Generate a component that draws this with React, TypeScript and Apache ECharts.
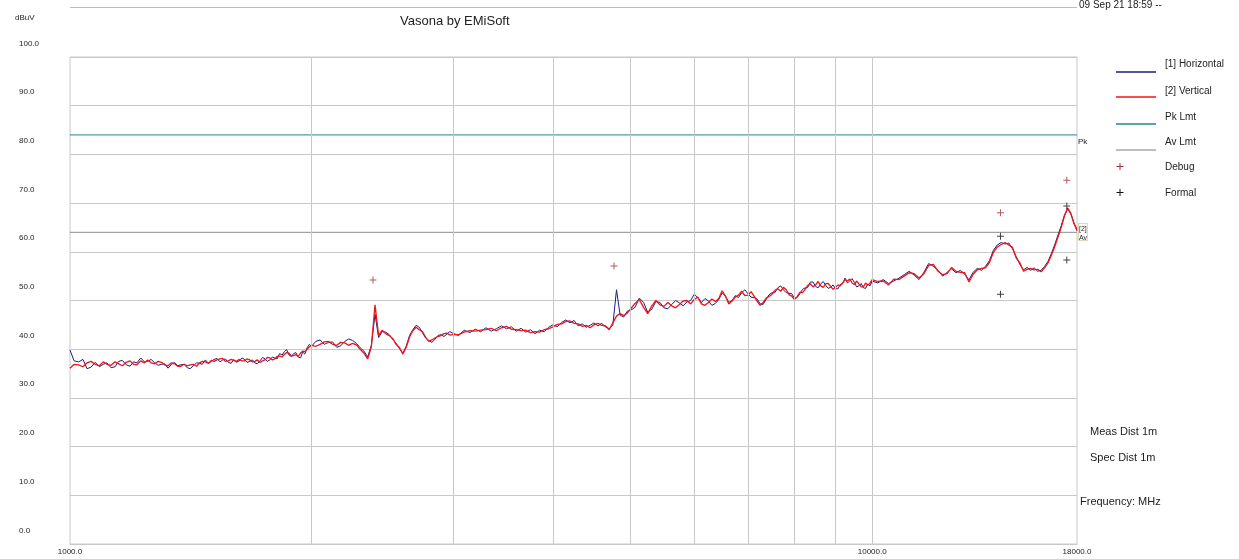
import React, { useEffect, useRef } from 'react';
import * as echarts from 'echarts';

const chartTitle = 'Vasona by EMiSoft';
const yUnit = 'dBuV';
const dateStamp = '09 Sep 21 18:59 --';

// Sweep frequencies (MHz), main grid
const freqMHz = [
  1000, 1025, 1050, 1075, 1100, 1125, 1150, 1175, 1200, 1225, 1250, 1275, 1300, 1325, 1350, 1375, 1400, 1425, 1450, 1475,
  1500, 1525, 1550, 1575, 1600, 1625, 1650, 1675, 1700, 1725, 1750, 1775, 1800, 1825, 1850, 1875, 1900, 1925, 1950, 1975, 2000,
  2050, 2100, 2150, 2200, 2250, 2300, 2350, 2400, 2450, 2500, 2550, 2600, 2650, 2700, 2750, 2800, 2850, 2900, 2950, 3000,
  3050, 3100, 3150, 3200, 3250, 3300, 3350, 3400, 3450, 3500, 3550, 3600, 3650, 3700, 3750, 3800, 3850, 3900, 3950, 4000,
  4050, 4100, 4150, 4200, 4250, 4300, 4350, 4400, 4450, 4500, 4550, 4600, 4650, 4700, 4750, 4800, 4850, 4900, 4950, 5000,
  5125, 5250, 5375, 5500, 5625, 5750, 5875, 6000, 6125, 6250, 6375, 6500, 6625, 6750, 6875, 7000, 7125, 7250, 7375, 7500,
  7625, 7750, 7875, 8000, 8125, 8250, 8375, 8500, 8625, 8750, 8875, 9000, 9125, 9250, 9375, 9500, 9625, 9750, 9875, 10000,
  10160, 10320, 10480, 10640, 10800, 10960, 11120, 11280, 11440, 11600, 11760, 11920, 12080, 12240, 12400, 12560, 12720, 12880, 13040, 13200,
  13360, 13520, 13680, 13840, 14000, 14160, 14320, 14480, 14640, 14800, 14960, 15120, 15280, 15440, 15600, 15760, 15920, 16080, 16240, 16400,
  16560, 16720, 16880, 17040, 17200, 17360, 17520, 17680, 17840, 18000,
];

// [1] Horizontal (dBuV) at freqMHz
const horizontal = [
  39.8, 37.4, 36.0, 37.3, 36.9, 36.2, 37.5, 36.8, 37.4, 38.2, 37.5, 37.2, 36.9, 36.1, 37.3, 36.8, 36.2, 36.6, 37.1, 37.8,
  37.5, 38.1, 37.8, 37.3, 37.9, 37.6, 37.9, 37.5, 37.2, 37.6, 38.0, 37.8, 38.2, 39.1, 39.5, 38.8, 39.1, 38.4, 39.4, 40.3, 40.6,
  41.9, 41.4, 40.4, 41.6, 41.8, 40.3, 38.4, 47.2, 43.6, 43.0, 41.2, 39.2, 42.8, 44.9, 43.4, 41.8, 42.0, 43.0, 43.1, 43.3,
  42.8, 43.9, 43.4, 44.1, 43.6, 44.4, 43.7, 44.2, 44.8, 44.2, 44.6, 43.7, 44.3, 43.5, 44.0, 43.2, 43.9, 43.6, 44.5, 45.0,
  44.6, 45.5, 46.0, 45.4, 45.9, 44.8, 45.2, 44.5, 44.9, 45.4, 44.8, 45.3, 44.6, 44.2, 45.0, 52.2, 47.0, 46.6, 47.8, 48.0,
  50.5, 47.6, 49.8, 48.5, 49.2, 49.5, 49.7, 51.3, 49.6, 49.9, 49.4, 51.6, 49.6, 51.0, 51.6, 51.4, 50.6, 49.3, 50.2, 51.6,
  52.6, 52.2, 51.5, 50.4, 51.4, 52.6, 53.8, 52.9, 53.4, 53.1, 52.7, 52.4, 53.3, 54.6, 54.0, 53.7, 53.0, 52.6, 53.4, 54.0,
  53.6, 54.3, 53.5, 54.0, 54.6, 55.3, 56.0, 55.2, 54.3, 55.8, 57.6, 57.0, 56.2, 55.0, 55.8, 56.5, 55.7, 56.2, 55.4, 54.2,
  55.8, 56.6, 56.2, 57.0, 58.2, 60.3, 61.4, 61.9, 61.6, 61.8, 60.6, 59.0, 57.4, 56.3, 56.8, 56.2, 56.7, 56.0, 56.2, 57.0,
  58.0, 59.6, 61.4, 63.4, 65.3, 67.5, 68.8, 67.8, 66.0, 64.3,
];

// [2] Vertical (dBuV) at freqMHz
const vertical = [
  36.1, 36.8, 37.2, 36.9, 37.4, 36.7, 37.0, 37.3, 36.9, 37.6, 37.8, 37.0, 37.3, 36.6, 37.0, 36.5, 36.6, 36.9, 37.2, 37.4,
  37.7, 37.8, 38.1, 37.6, 37.7, 37.9, 37.6, 37.8, 37.5, 37.3, 37.8, 38.2, 38.0, 38.6, 38.9, 39.2, 38.7, 38.5, 39.6, 40.0, 40.8,
  41.0, 41.6, 40.8, 41.3, 41.2, 40.0, 38.0, 49.1, 43.9, 42.8, 41.0, 39.0, 42.5, 44.5, 43.6, 41.6, 42.3, 42.8, 43.3, 43.0,
  43.0, 43.5, 43.8, 43.7, 43.9, 44.0, 44.3, 43.8, 44.4, 44.7, 44.1, 44.0, 43.8, 43.9, 43.4, 43.6, 43.5, 44.0, 44.2, 44.6,
  45.1, 45.2, 45.7, 45.8, 45.3, 45.2, 44.7, 44.9, 44.4, 45.0, 45.3, 44.9, 44.8, 44.0, 45.4, 46.8, 47.3, 46.9, 47.4, 48.3,
  50.2, 47.3, 50.0, 48.8, 48.9, 49.2, 50.0, 50.2, 49.3, 49.6, 49.8, 52.0, 49.3, 50.7, 51.9, 51.1, 50.9, 49.0, 50.5, 51.3,
  52.4, 52.7, 51.2, 50.2, 51.7, 52.3, 53.4, 53.2, 53.0, 53.4, 52.9, 52.7, 53.0, 54.3, 54.4, 53.3, 53.4, 52.8, 53.1, 54.3,
  53.9, 54.0, 53.2, 54.4, 54.3, 55.0, 55.7, 55.5, 54.6, 55.5, 57.2, 57.4, 56.0, 55.3, 55.5, 56.8, 56.0, 55.8, 55.7, 53.8,
  55.4, 56.3, 56.6, 56.7, 57.8, 59.9, 61.0, 61.5, 61.9, 61.4, 60.9, 58.7, 57.7, 56.0, 56.4, 56.6, 56.3, 56.4, 55.9, 56.7,
  57.7, 59.3, 61.0, 63.0, 65.0, 67.3, 69.0, 68.0, 65.8, 64.6,
];

// Extra in-between sweep points (MHz) where the trace is sparse
const freqFine = [
  1012, 1038, 1062, 1088, 1112, 1138, 1162, 1188, 1212, 1238, 1262, 1288, 1312, 1338, 1362, 1388, 1412, 1438, 1462, 1488,
  1512, 1538, 1562, 1588, 1612, 1638, 1662, 1688, 1712, 1738, 1762, 1788, 1812, 1838, 1862, 1888, 1912, 1938, 1962, 1988,
  2025, 2075, 2125, 2175, 2225, 2275, 2325, 2375, 2425, 2475, 2525, 2575, 2625, 2675, 2725, 2775, 2825, 2875, 2925, 2975,
  5062, 5188, 5312, 5438, 5562, 5688, 5812, 5938, 6062, 6188, 6312, 6438, 6562, 6688, 6812, 6938, 7062, 7188, 7312, 7438,
  7562, 7688, 7812, 7938, 8062, 8188, 8312, 8438, 8562, 8688, 8812, 8938, 9062, 9188, 9312, 9438, 9562, 9688, 9812, 9938,
];

const horizontalFine = [
  37.6, 37.9, 36.3, 36.4, 37.2, 36.4, 37.7, 36.5, 37.2, 37.4, 37.9, 36.7, 37.0, 36.9, 36.6, 36.9, 36.0, 37.2, 36.9, 37.1,
  37.9, 37.4, 38.0, 37.1, 37.3, 38.2, 37.3, 37.8, 37.0, 38.3, 37.5, 38.4, 38.0, 38.8, 39.9, 38.5, 39.3, 38.2, 39.0, 41.0,
  41.6, 41.0, 41.5, 40.7, 42.1, 41.2, 39.6, 40.8, 42.4, 43.5, 42.0, 40.1, 40.6, 44.0, 44.5, 42.3, 41.4, 42.8, 42.6, 43.6,
  48.6, 49.6, 48.2, 49.6, 48.3, 50.0, 48.9, 50.0, 50.6, 50.4, 49.0, 50.2, 50.9, 50.0, 50.6, 52.2, 50.7, 50.3, 49.2, 51.2,
  51.6, 53.0, 51.6, 51.4, 50.6, 52.3, 52.7, 53.8, 52.6, 53.9, 52.5, 53.2, 52.4, 53.5, 53.6, 54.5, 52.8, 53.5, 52.5, 53.0,
];

const verticalFine = [
  36.9, 36.4, 37.5, 36.6, 36.9, 37.4, 36.6, 37.6, 36.8, 37.2, 37.2, 37.5, 36.8, 37.2, 36.5, 36.9, 36.8, 36.5, 37.5, 37.1,
  37.5, 38.0, 37.5, 37.9, 37.5, 37.6, 38.0, 37.4, 37.8, 37.6, 38.3, 37.8, 38.5, 38.4, 39.3, 38.6, 38.9, 39.2, 39.5, 40.5,
  40.6, 41.5, 41.0, 41.4, 40.8, 40.9, 39.2, 40.5, 42.8, 43.2, 42.2, 40.3, 40.4, 43.8, 44.0, 42.5, 41.9, 42.6, 43.2, 42.9,
  49.4, 48.6, 48.9, 49.1, 49.6, 48.5, 49.9, 49.3, 50.7, 49.0, 50.3, 50.4, 50.9, 49.9, 51.1, 51.0, 51.8, 49.8, 49.6, 50.8,
  52.1, 51.9, 52.2, 50.9, 50.8, 51.6, 53.1, 52.8, 53.9, 52.7, 53.5, 52.3, 53.2, 53.6, 54.0, 53.6, 54.0, 52.8, 53.6, 53.6,
];

const limitFreq = [1000, 18000];
const pkLimit = [84, 84];
const avLimit = [64, 64];

const debugFreq = [2386, 4766, 14450, 17480];
const debugLevel = [54.2, 57.1, 68.0, 74.7];
const formalFreq = [14450, 14450, 17480, 17480];
const formalLevel = [63.2, 51.3, 69.4, 58.3];

const gridFreqs = [2000, 3000, 4000, 5000, 6000, 7000, 8000, 9000, 10000];
const xLabelValues = [1000, 10000, 18000];

const legendNames = ['[1] Horizontal', '[2] Vertical', 'Pk Lmt', 'Av Lmt', 'Debug', 'Formal'];
const sideNotes = ['Meas Dist 1m', 'Spec Dist 1m', 'Frequency: MHz'];

const FONT = '"Liberation Sans", Arial, Helvetica, sans-serif';
const C_H = '#1c1c84';
const C_V = '#f01414';
const C_PK = '#1f8787';
const C_AV = '#8c8c8c';
const C_DBG = '#a03030';
const C_FRM = '#111111';
const C_GRID = '#c8c8c8';
const PLUS = 'path://M3,0H4V3H7V4H4V7H3V4H0V3H3Z';

function mergeSweep(fa: number[], va: number[], fb: number[], vb: number[]) {
  const pts = fa.map((f, i) => [f, va[i]]).concat(fb.map((f, i) => [f, vb[i]]));
  pts.sort((a, b) => a[0] - b[0]);
  return pts;
}

export default function App() {
  const ref = useRef<HTMLDivElement>(null);
  useEffect(() => {
    if (!ref.current) return;
    const chart = echarts.init(ref.current, null, { renderer: 'svg' });
    const pair = (xs: number[], ys: number[]) => xs.map((x, i) => [x, ys[i]]);

    const plus = (cx: number, cy: number, color: string) => [
      { type: 'line', shape: { x1: cx - 3, y1: cy, x2: cx + 4, y2: cy }, style: { stroke: color, lineWidth: 1 } },
      { type: 'line', shape: { x1: cx + 0.5, y1: cy - 3.5, x2: cx + 0.5, y2: cy + 3.5 }, style: { stroke: color, lineWidth: 1 } },
    ];
    const txt = (x: number, y: number, text: string, size: number, extra: any = {}) => ({
      type: 'text',
      x,
      y,
      style: { text, fontSize: size, fontFamily: FONT, fill: '#222', align: 'left', verticalAlign: 'middle', ...extra },
    });
    const legendLineY = [72, 97, 124, 150];
    const legendLineColors = [C_H, C_V, C_PK, '#a8a8a8'];
    const legendTextY = [63.5, 90, 116, 141, 166, 192];

    const graphic: any[] = [
      { type: 'line', shape: { x1: 70, y1: 7.5, x2: 1077, y2: 7.5 }, style: { stroke: '#bbbbbb', lineWidth: 1 } },
      txt(1079, 4, dateStamp, 10),
      txt(15, 17, yUnit, 8),
      ...legendLineY.map((y, i) => ({
        type: 'line',
        shape: { x1: 1116, y1: y, x2: 1156, y2: y },
        style: { stroke: legendLineColors[i], lineWidth: 1.4 },
      })),
      ...plus(1119.5, 166.5, C_DBG),
      ...plus(1119.5, 192.5, C_FRM),
      ...legendNames.map((n, i) => txt(1165, legendTextY[i], n, 10)),
      txt(1078, 141, 'Pk', 8),
      { type: 'rect', shape: { x: 1078.5, y: 223.5, width: 9, height: 17 }, style: { fill: 'none', stroke: '#c8b070', lineWidth: 1, lineDash: [1, 1] } },
      txt(1079, 228, '[2]', 7),
      txt(1079, 237, 'Av', 7),
      txt(1090, 431, sideNotes[0], 11),
      txt(1090, 457, sideNotes[1], 11),
      txt(1080, 500.5, sideNotes[2], 11),
    ];

    chart.setOption({
      animation: false,
      textStyle: { fontFamily: FONT },
      title: {
        text: chartTitle,
        left: 400,
        top: 14,
        padding: 0,
        textStyle: { fontSize: 13, fontWeight: 'normal', color: '#222', fontFamily: FONT },
      },
      grid: {
        left: 70,
        top: 57,
        width: 1007,
        height: 487,
        show: true,
        borderColor: C_GRID,
        borderWidth: 1,
        backgroundColor: 'transparent',
      },
      xAxis: {
        type: 'log',
        logBase: 10,
        min: 1000,
        max: 18000,
        axisLine: { show: true, lineStyle: { color: C_GRID } },
        axisTick: { show: false },
        splitLine: { show: false },
        axisLabel: {
          fontSize: 8,
          color: '#222',
          margin: 3,
          showMinLabel: true,
          showMaxLabel: true,
          formatter: (v: number) => {
            const r = Math.round(v);
            return xLabelValues.includes(r) ? r.toFixed(1) : '';
          },
        },
      },
      yAxis: {
        type: 'value',
        min: 0,
        max: 100,
        interval: 10,
        axisLine: { show: false },
        axisTick: { show: false },
        splitLine: { show: true, lineStyle: { color: C_GRID, width: 1 } },
        axisLabel: {
          fontSize: 8,
          color: '#222',
          align: 'left',
          margin: 51,
          verticalAlign: 'bottom',
          lineHeight: 28,
          formatter: (v: number) => v.toFixed(1),
        },
      },
      series: [
        {
          name: 'Av Lmt',
          type: 'line',
          data: pair(limitFreq, avLimit),
          symbol: 'none',
          lineStyle: { color: C_AV, width: 1 },
          z: 2,
          silent: true,
          markLine: {
            silent: true,
            symbol: 'none',
            label: { show: false },
            lineStyle: { color: C_GRID, type: 'solid', width: 1 },
            data: gridFreqs.map((f) => ({ xAxis: f })),
          },
        },
        {
          name: 'Pk Lmt',
          type: 'line',
          data: pair(limitFreq, pkLimit),
          symbol: 'none',
          lineStyle: { color: C_PK, width: 1 },
          z: 2,
          silent: true,
        },
        {
          name: '[1] Horizontal',
          type: 'line',
          data: mergeSweep(freqMHz, horizontal, freqFine, horizontalFine),
          symbol: 'none',
          showSymbol: false,
          lineStyle: { color: C_H, width: 1 },
          z: 3,
        },
        {
          name: '[2] Vertical',
          type: 'line',
          data: mergeSweep(freqMHz, vertical, freqFine, verticalFine),
          symbol: 'none',
          showSymbol: false,
          lineStyle: { color: C_V, width: 1.3 },
          z: 4,
        },
        {
          name: 'Debug',
          type: 'scatter',
          data: pair(debugFreq, debugLevel),
          symbol: PLUS,
          symbolSize: 7,
          itemStyle: { color: C_DBG },
          z: 5,
        },
        {
          name: 'Formal',
          type: 'scatter',
          data: pair(formalFreq, formalLevel),
          symbol: PLUS,
          symbolSize: 7,
          itemStyle: { color: C_FRM },
          z: 5,
        },
      ],
      graphic,
    });
    return () => chart.dispose();
  }, []);
  return <div ref={ref} style={{ position: 'fixed', left: 0, top: 0, width: 1239, height: 559 }} />;
}
